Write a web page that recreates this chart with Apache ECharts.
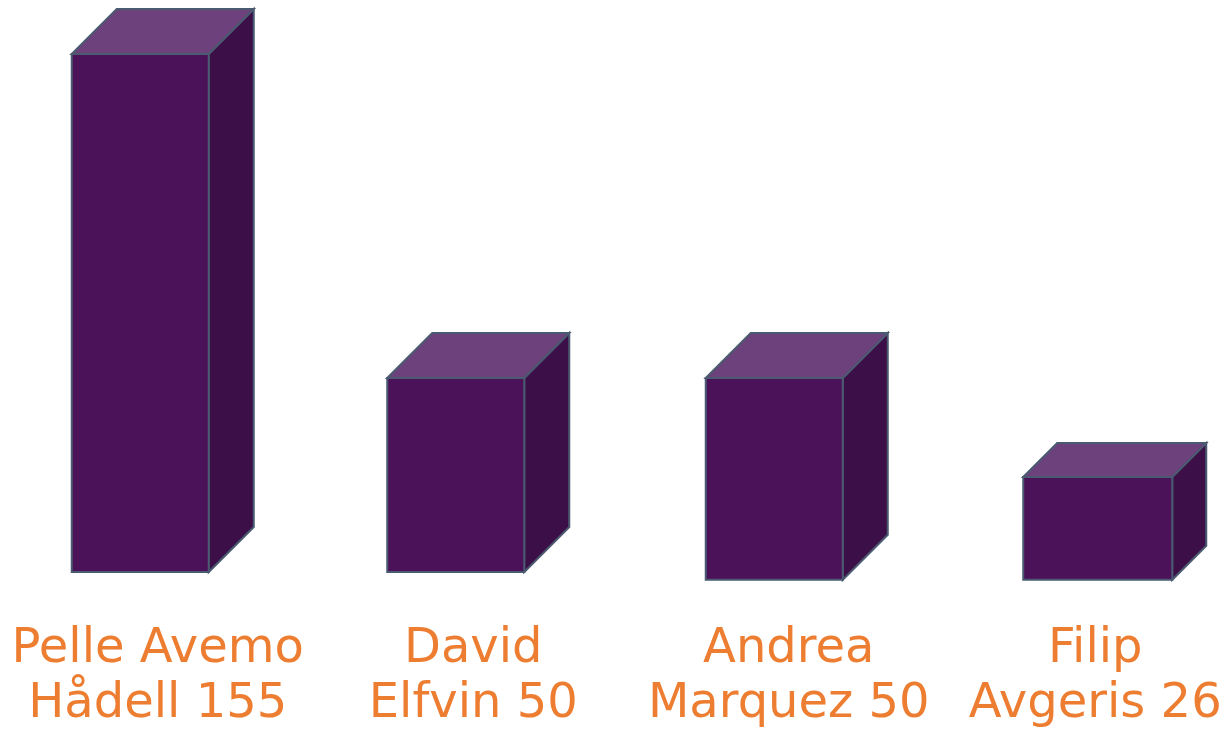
<!DOCTYPE html>
<html>
<head>
<meta charset="utf-8">
<script src="https://cdn.jsdelivr.net/npm/echarts@6/dist/echarts.min.js"></script>
<style>
html,body{margin:0;padding:0;background:#ffffff;}
#chart{width:1226px;height:732px;}
</style>
</head>
<body>
<div id="chart"></div>
<script>
// ---- data ----
const names = ["Pelle Avemo Hådell", "David Elfvin", "Andrea Marquez", "Filip Avgeris"];
const values = [155, 50, 50, 26];          // numbers shown in the labels
const barTop = [133.5, 50, 50, 24.5];      // drawn top of each box (picture scale)
const barBase = [0, 0, -2, -2];            // drawn bottom of each box (picture scale)

// ---- styling (not data) ----
const boxGeo = [
  {off: -86, w: 137, d: 45},
  {off: -86, w: 137, d: 45},
  {off: -83, w: 137, d: 45},
  {off: -81, w: 149, d: 34}
];
const labelPad = [[0, 0, 0, 0], [0, 0, 0, 0], [0, 0, 0, 0], [0, 18, 0, 0]];
const COL_FRONT = '#4b125a';
const COL_TOP = '#6d417b';
const COL_SIDE = '#3c0f49';
const COL_EDGE = '#4a5a70';

const labels = names.map((n, i) => {
  const k = n.lastIndexOf(' ');
  return {
    value: n.slice(0, k) + '\n' + n.slice(k + 1) + ' ' + values[i],
    textStyle: {padding: labelPad[i]}
  };
});

const seriesData = names.map((n, i) => [i, barTop[i], barBase[i]]);

const chart = echarts.init(document.getElementById('chart'), null, {renderer: 'canvas'});
chart.setOption({
  backgroundColor: '#ffffff',
  animation: false,
  grid: {left: 0, width: 1262, top: 28.8, height: 543.2, containLabel: false, outerBoundsMode: 'none'},
  xAxis: {
    type: 'category',
    data: labels,
    axisLine: {show: false},
    axisTick: {show: false},
    splitLine: {show: false},
    axisLabel: {
      interval: 0,
      margin: 50,
      color: '#ed7d31',
      fontFamily: 'DejaVu Sans',
      fontSize: 48,
      lineHeight: 55,
      align: 'center',
      hideOverlap: false
    }
  },
  yAxis: {
    type: 'value',
    min: 0,
    max: 140,
    show: false,
    splitLine: {show: false}
  },
  series: [{
    type: 'custom',
    clip: false,
    data: seriesData,
    encode: {x: 0, y: [1, 2]},
    renderItem: function (params, api) {
      const idx = api.value(0);
      const g = boxGeo[idx];
      const pT = api.coord([idx, api.value(1)]);
      const pB = api.coord([idx, api.value(2)]);
      const left = pT[0] + g.off;
      const yT = pT[1], yB = pB[1];
      const w = g.w, d = g.d;
      const edge = {stroke: COL_EDGE, lineWidth: 2, lineJoin: 'miter'};
      return {
        type: 'group',
        children: [
          {type: 'polygon', shape: {points: [[left + w, yT], [left + w + d, yT - d], [left + w + d, yB - d], [left + w, yB]]},
           style: Object.assign({fill: COL_SIDE}, edge)},
          {type: 'polygon', shape: {points: [[left, yT], [left + d, yT - d], [left + w + d, yT - d], [left + w, yT]]},
           style: Object.assign({fill: COL_TOP}, edge)},
          {type: 'rect', shape: {x: left, y: yT, width: w, height: yB - yT},
           style: Object.assign({fill: COL_FRONT}, edge)}
        ]
      };
    }
  }]
});
</script>
</body>
</html>
